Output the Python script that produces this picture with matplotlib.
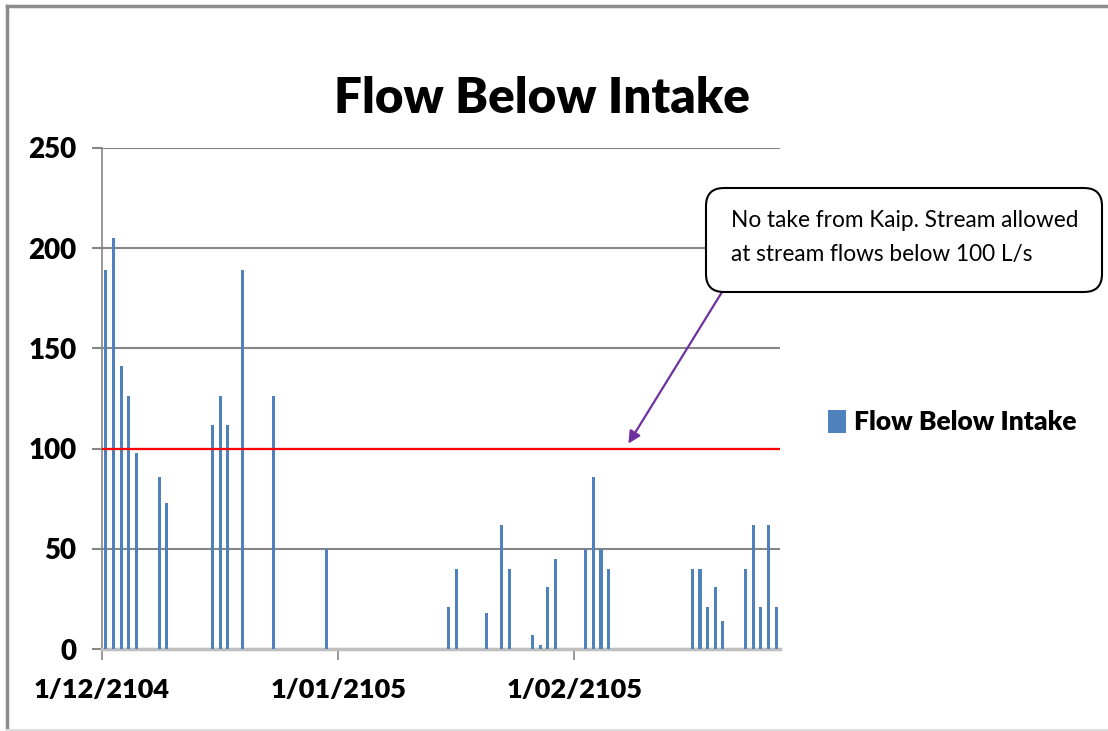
import matplotlib
matplotlib.use('Agg')
import matplotlib.pyplot as plt
import matplotlib.dates as mdates
from matplotlib.patches import FancyBboxPatch
from matplotlib.lines import Line2D
from matplotlib.transforms import IdentityTransform
import numpy as np

# daily flow readings (L/s), only days with a reading
dates = ['2104-12-01', '2104-12-02', '2104-12-03', '2104-12-04', '2104-12-05',
         '2104-12-08', '2104-12-09', '2104-12-15', '2104-12-16', '2104-12-17',
         '2104-12-19', '2104-12-23', '2104-12-30',
         '2105-01-15', '2105-01-16', '2105-01-20', '2105-01-22', '2105-01-23',
         '2105-01-26', '2105-01-27', '2105-01-28', '2105-01-29',
         '2105-02-02', '2105-02-03', '2105-02-04', '2105-02-05',
         '2105-02-16', '2105-02-17', '2105-02-18', '2105-02-19', '2105-02-20',
         '2105-02-23', '2105-02-24', '2105-02-25', '2105-02-26', '2105-02-27']
flow = [189, 205, 141, 126, 98,
        86, 73, 112, 126, 112,
        189, 126, 50,
        21, 40, 18, 62, 40,
        7, 2, 31, 45,
        50, 86, 50, 40,
        40, 40, 21, 31, 14,
        40, 62, 21, 62, 21]
limit = 100
tick_dates = ['2104-12-01', '2105-01-01', '2105-02-01']
tick_labels = ['1/12/2104', '1/01/2105', '1/02/2105']
yticks = [0, 50, 100, 150, 200, 250]

FONT = 'Lato'
W, H = 1108, 731
grid_c = '#868686'

x = mdates.date2num(np.array(dates, dtype='datetime64[D]')) + 0.5
xt = mdates.date2num(np.array(tick_dates, dtype='datetime64[D]'))
x0 = xt[0]
x1 = mdates.date2num(np.datetime64('2105-02-28'))

fig = plt.figure(figsize=(W / 100, H / 100), dpi=100)
ax = fig.add_axes([102 / W, 1 - 649 / H, (780 - 102) / W, (649 - 148) / H])

ax.bar(x, flow, width=0.4, color='#4F81BD', label='Flow Below Intake', zorder=3)
ax.axhline(limit, color='#FF0000', lw=1.6, zorder=4)

ax.set_xlim(x0, x1)
ax.set_ylim(0, 250)
ax.set_yticks(yticks)
ax.set_xticks(xt)
ax.set_xticklabels(tick_labels)
ax.yaxis.grid(True, color=grid_c, lw=1.5, zorder=0)
ax.set_axisbelow(True)

for s in ['top', 'right']:
    ax.spines[s].set_visible(False)
ax.spines['left'].set_color(grid_c)
ax.spines['left'].set_linewidth(1.2)
ax.spines['bottom'].set_color('#BFBFBF')
ax.spines['bottom'].set_linewidth(2.5)

ax.tick_params(axis='y', direction='out', length=7.5, width=1.5, color=grid_c, pad=11)
ax.tick_params(axis='x', direction='out', length=8, width=1.2, color=grid_c, pad=13)
for lab in ax.get_xticklabels() + ax.get_yticklabels():
    lab.set_fontfamily(FONT)
    lab.set_fontweight('heavy')
    lab.set_fontsize(20)
for lab in ax.get_xticklabels():
    lab.set_fontsize(19.5)

fig.text(542 / W, 1 - 113 / H, 'Flow Below Intake', ha='center', va='baseline',
         fontsize=35.5, fontweight='heavy', family=FONT)

fig.legend(loc='center left', bbox_to_anchor=(804 / W, 1 - 422 / H), frameon=False,
           handlelength=0.7, handleheight=1.0, handletextpad=0.3,
           prop={'family': FONT, 'weight': 'heavy', 'size': 19})

# callout box with arrow to the limit line
box = FancyBboxPatch((706, H - 292), 396, 104, boxstyle='round,pad=0,rounding_size=18',
                     transform=IdentityTransform(), facecolor='white', edgecolor='black',
                     lw=1.5, zorder=2)
fig.patches.append(box)
fig.text(731 / W, 1 - 227 / H, 'No take from Kaip. Stream allowed', ha='left', va='baseline',
         fontsize=16.3, family=FONT, zorder=6)
fig.text(731 / W, 1 - 261 / H, 'at stream flows below 100 L/s', ha='left', va='baseline',
         fontsize=16.3, family=FONT, zorder=6)
ax.annotate('', xy=(mdates.date2num(np.datetime64('2105-02-08')) + 0.1, 102.5),
            xytext=(722, H - 292), textcoords='figure pixels',
            arrowprops=dict(arrowstyle='-|>', color='#7030A0', lw=1.6,
                            shrinkA=0, shrinkB=0, mutation_scale=18))

# outer chart frame
fig.add_artist(Line2D([7, 7], [H - 6, 1], transform=IdentityTransform(), color='#8C8C8C', lw=2.5))
fig.add_artist(Line2D([7, W], [H - 6, H - 6], transform=IdentityTransform(), color='#8C8C8C', lw=2.5))
fig.add_artist(Line2D([7, W], [1, 1], transform=IdentityTransform(), color='#DDDDDD', lw=1.5))

fig.savefig('out.png', dpi=100)
